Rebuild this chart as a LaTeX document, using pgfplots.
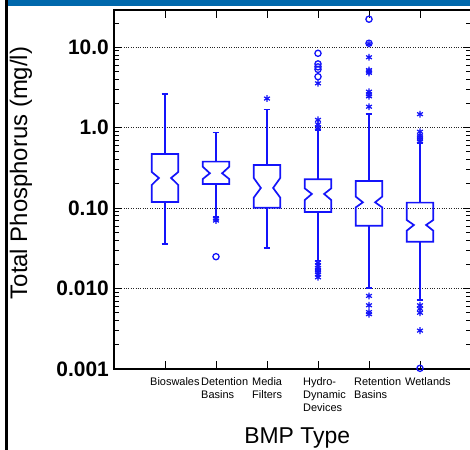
\documentclass[border=0pt]{standalone}
\usepackage{pgfplots}
\pgfplotsset{compat=1.18}
\usepackage{fontspec}
\setmainfont{Liberation Sans}
\definecolor{strip}{RGB}{0,104,172}
\definecolor{bx}{RGB}{20,20,250}
% notched box: x, whisker-low, q1, notch-low, median, notch-high, q3, whisker-high
\newcommand{\nbox}[8]{%
  \pgfmathsetmacro\xa{#1-0.26}\pgfmathsetmacro\xb{#1+0.26}%
  \pgfmathsetmacro\xc{#1-0.12}\pgfmathsetmacro\xd{#1+0.12}%
  \pgfmathsetmacro\xe{#1-0.065}\pgfmathsetmacro\xf{#1+0.065}%
  \edef\tmp{\noexpand\addplot[bx, line width=1.7bp] coordinates {(\xa,#3) (\xb,#3) (\xb,#4) (\xd,#5) (\xb,#6) (\xb,#7) (\xa,#7) (\xa,#6) (\xc,#5) (\xa,#4)} -- cycle;}\tmp
  \edef\tmp{\noexpand\addplot[bx, line width=1.6bp] coordinates {(#1,#2) (#1,#3)};}\tmp
  \edef\tmp{\noexpand\addplot[bx, line width=1.6bp] coordinates {(#1,#7) (#1,#8)};}\tmp
  \edef\tmp{\noexpand\addplot[bx, line width=1.6bp] coordinates {(\xe,#2) (\xf,#2)};}\tmp
  \edef\tmp{\noexpand\addplot[bx, line width=1.6bp] coordinates {(\xe,#8) (\xf,#8)};}\tmp
}
\pgfplotsset{
  ast/.style={only marks, mark=asterisk, bx, mark size=3.4bp, line width=1.2bp},
  circ/.style={only marks, mark=o, bx, mark size=3.1bp, line width=1.3bp},
}
\begin{document}
\begin{tikzpicture}
\useasboundingbox (0,0) rectangle (470bp,-450bp);
\fill[white] (0,0) rectangle (470bp,-450bp);
\fill[strip] (7bp,0) rectangle (470bp,-6bp);
\fill[black] (5bp,0) rectangle (7.5bp,-450bp);
\begin{axis}[
  at={(114bp,-369bp)}, anchor=south west,
  scale only axis, width=357bp, height=359bp,
  xmin=0, xmax=7, ymode=log, ymin=0.001, ymax=29,
  xtick={1,...,6},
  xticklabels={Bioswales, Detention\\Basins, Media\\Filters, Hydro-\\Dynamic\\Devices, Retention\\Basins, Wetlands},
  xticklabel style={anchor=north west, align=left, xshift=-15bp, yshift=-8bp, inner sep=0pt, font=\fontsize{11}{13}\selectfont},
  ytick={0.001,0.01,0.1,1,10},
  yticklabels={0.001,0.010,0.10,1.0,10.0},
  minor ytick={0.002,0.003,0.004,0.005,0.006,0.007,0.008,0.009,0.02,0.03,0.04,0.05,0.06,0.07,0.08,0.09,0.2,0.3,0.4,0.5,0.6,0.7,0.8,0.9,2,3,4,5,6,7,8,9,20},
  yticklabel style={anchor=east, inner sep=0pt, xshift=-5bp, font=\bfseries\fontsize{21}{21}\selectfont},
  tick align=inside, major tick length=8bp, minor tick length=5bp,
  tick style={black, line width=0.9bp},
  ymajorgrids, major grid style={dotted, black!85, line width=0.8bp},
  axis line style={black, line width=1.6bp},
  xlabel={BMP Type}, ylabel={Total Phosphorus (mg/l)},
  xlabel style={at={(axis description cs:0.513,-0.191)}, anchor=center, font=\fontsize{23}{23}\selectfont},
  ylabel style={at={(axis description cs:-0.2605,0.546)}, anchor=center, font=\fontsize{24}{24}\selectfont},
  clip=false,
]
% Bioswales
\nbox{1}{0.0357}{0.119}{0.194}{0.237}{0.281}{0.471}{2.63}
% Detention Basins
\nbox{2}{0.078}{0.1995}{0.230}{0.271}{0.327}{0.378}{0.867}
\addplot[ast] coordinates {(2,0.074) (2,0.070)};
\addplot[circ] coordinates {(2,0.0249)};
% Media Filters
\nbox{3}{0.0322}{0.101}{0.135}{0.178}{0.237}{0.344}{1.69}
\addplot[ast] coordinates {(3,2.30)};
% Hydro-Dynamic Devices
\nbox{4}{0.0222}{0.0894}{0.126}{0.150}{0.176}{0.228}{0.93}
\addplot[ast] coordinates {(4,1.0) (4,1.1) (4,1.25) (4,3.56) (4,0.021) (4,0.0195) (4,0.018) (4,0.017) (4,0.016) (4,0.015) (4,0.0138)};
\addplot[circ] coordinates {(4,4.3) (4,5.3) (4,5.7) (4,6.2) (4,8.4)};
% Retention Basins
\nbox{5}{0.0101}{0.0604}{0.102}{0.118}{0.139}{0.217}{1.47}
\addplot[ast] coordinates {(5,1.82) (5,2.45) (5,2.6) (5,2.8) (5,4.8) (5,5.0) (5,5.2) (5,7.5) (5,11.0) (5,0.0081) (5,0.0062) (5,0.0051) (5,0.0048)};
\addplot[circ] coordinates {(5,11.2) (5,22.3)};
% Wetlands
\nbox{6}{0.0072}{0.0382}{0.0524}{0.0617}{0.0711}{0.117}{0.64}
\addplot[ast] coordinates {(6,0.68) (6,0.72) (6,0.76) (6,0.80) (6,0.89) (6,1.47) (6,0.0062) (6,0.0056) (6,0.0050) (6,0.0030)};
\addplot[circ] coordinates {(6,0.00102)};
\end{axis}
\end{tikzpicture}
\end{document}
